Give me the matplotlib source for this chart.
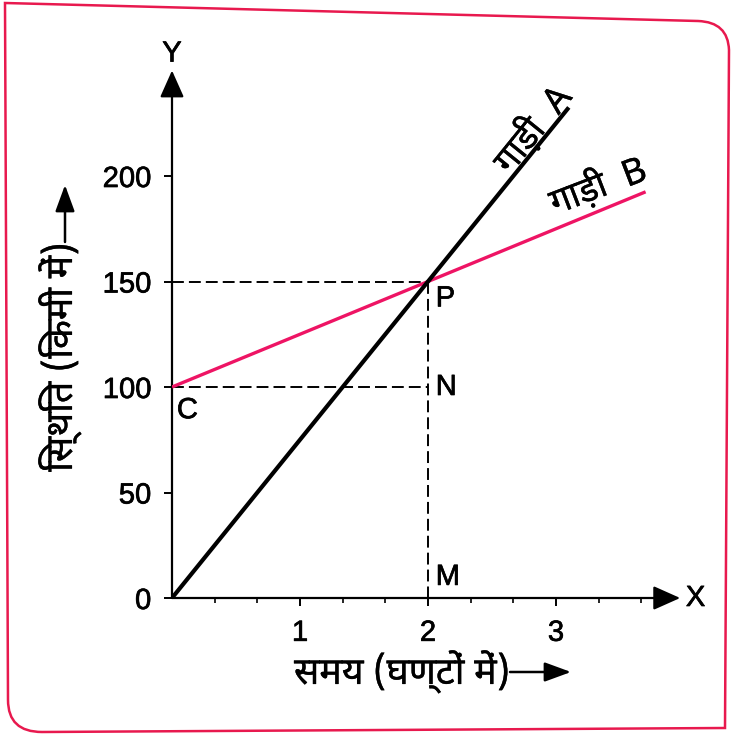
import glob
import os

import matplotlib
matplotlib.use("Agg")
import matplotlib.pyplot as plt
import matplotlib.patheffects as pe
from matplotlib import font_manager as fm
from matplotlib.patches import FancyArrowPatch, PathPatch
from matplotlib.path import Path

# ---- data -------------------------------------------------------------
t_a = [0.0, 3.1]             # car A: time (h)
x_a = [0.0, 232.5]           # car A: position (km)
t_b = [0.0, 3.7]             # car B: time (h)
x_b = [100.0, 192.5]         # car B: position (km)
meet_t = 2.0                 # crossing time
meet_x = 150.0               # crossing position
start_b = 100.0              # car B starting position
x_ticks = [1, 2, 3]
x_minor = [1/3, 2/3, 4/3, 5/3, 7/3, 8/3, 10/3, 11/3]
y_ticks = [0, 50, 100, 150, 200]

# ---- fonts ------------------------------------------------------------
def find_font(prefixes):
    files = sorted(glob.glob("/usr/share/fonts/**/*.[ot]tf", recursive=True))
    for pre in prefixes:
        for f in files:
            if os.path.basename(f).startswith(pre):
                return f
    return None

deva_path = find_font(["NotoSansDevanagari[", "NotoSansDevanagari-Regular",
                       "NotoSansDevanagari-", "NotoSansDevanagariUI-Regular",
                       "Mukta-Regular", "Hind-Regular", "Palanquin-Regular"])
fm.fontManager.addfont(deva_path)
DEVA = fm.FontProperties(fname=deva_path).get_name()
LATIN = "Liberation Sans"
HINDI = [DEVA, LATIN]
plt.rcParams["font.family"] = [LATIN, "DejaVu Sans"]

# printed glyphs are a touch heavier than the regular cut
heavy = [pe.withStroke(linewidth=0.5, foreground="black")]
heavy_deva = [pe.withStroke(linewidth=0.25, foreground="black")]

W, H = 732, 735
fig = plt.figure(figsize=(W / 100, H / 100), dpi=100)
fig.patch.set_facecolor("white")


def fx(x):
    return x / W


def fy(y):
    return 1 - y / H


# page frame with two rounded corners
verts = [(5, 3), (698, 21), (728, 22), (729, 50), (725, 728), (42, 732),
         (8, 732), (8, 700), (5, 3), (5, 3)]
codes = [Path.MOVETO, Path.LINETO, Path.CURVE3, Path.CURVE3, Path.LINETO,
         Path.LINETO, Path.CURVE3, Path.CURVE3, Path.LINETO, Path.CLOSEPOLY]
frame = Path([(fx(a), fy(b)) for a, b in verts], codes)
fig.add_artist(PathPatch(frame, transform=fig.transFigure, fill=False,
                         edgecolor="#e8194e", lw=1.8))

ax = fig.add_axes([172 / W, 137 / H, 512 / W, 527.5 / H])
ax.set_xlim(0, 4)
ax.set_ylim(0, 250)
for s in ax.spines.values():
    s.set_visible(False)
ax.patch.set_alpha(0)

# axes with arrowheads
for end in [(3.97, 0), (0, 250)]:
    ax.add_patch(FancyArrowPatch((0, 0), end, arrowstyle="-|>,head_length=0.83,head_width=0.37",
                                 mutation_scale=20, color="black", lw=1.6,
                                 shrinkA=0, shrinkB=0, clip_on=False, zorder=3))

ax.set_xticks(x_ticks)
ax.set_xticks(x_minor, minor=True)
ax.set_yticks(y_ticks)
ax.tick_params(axis="both", which="major", direction="out", length=6, width=1.4,
               labelsize=21, pad=9, colors="black")
ax.tick_params(axis="x", which="minor", direction="out", length=3.5, width=1.2)
for t in ax.get_xticklabels() + ax.get_yticklabels():
    t.set_path_effects(heavy)

# reference dashes
dash = dict(color="black", lw=1.4, linestyle=(0, (6.1, 2.6)), zorder=2)
ax.plot([0, meet_t], [meet_x, meet_x], **dash)
ax.plot([meet_t, meet_t], [meet_x, 0], **dash)
ax.plot([0, meet_t], [start_b, start_b], **dash)

# position-time lines
ax.plot(t_b, x_b, color="#ee1464", lw=2.4, solid_capstyle="butt", zorder=4)
ax.plot(t_a, x_a, color="black", lw=3.0, solid_capstyle="butt", zorder=5)

# point labels
lab = dict(fontsize=21, color="black", va="center", path_effects=heavy)
ax.text(meet_t + 0.06, 142, "P", ha="left", **lab)
ax.text(meet_t + 0.06, 100, "N", ha="left", **lab)
ax.text(meet_t + 0.06, 10, "M", ha="left", **lab)
ax.text(0.12, 89, "C", ha="center", **lab)
ax.text(0.0, 258, "Y", ha="center", clip_on=False, **lab)
ax.text(4.09, 0, "X", ha="center", clip_on=False, **lab)

# line labels
ax.text(2.82, 222.0, "गाड़ी  A", family=HINDI, fontsize=26, rotation=51,
        ha="center", va="center", rotation_mode="anchor", path_effects=heavy_deva)
ax.text(3.33, 195.0, "गाड़ी  B", family=HINDI, fontsize=26, rotation=21,
        ha="center", va="center", rotation_mode="anchor", path_effects=heavy_deva)

# axis titles with arrows
fig.text(fx(294), fy(672), "समय (घण्टों में)", family=HINDI, fontsize=27,
         ha="left", va="center", path_effects=heavy_deva)
fig.add_artist(FancyArrowPatch((fx(510), fy(672)), (fx(571), fy(672)),
                               transform=fig.transFigure,
                               arrowstyle="-|>,head_length=0.9,head_width=0.33",
                               mutation_scale=18, color="black", lw=1.8,
                               shrinkA=0, shrinkB=0))
fig.text(fx(60), fy(357), "िस्थित (िकमी में)", family=HINDI, fontsize=27,
         rotation=90, ha="center", va="center", path_effects=heavy_deva)
fig.add_artist(FancyArrowPatch((fx(65), fy(242)), (fx(65), fy(185)),
                               transform=fig.transFigure,
                               arrowstyle="-|>,head_length=0.9,head_width=0.33",
                               mutation_scale=18, color="black", lw=1.8,
                               shrinkA=0, shrinkB=0))

fig.savefig("out.png", dpi=100, facecolor="white")
